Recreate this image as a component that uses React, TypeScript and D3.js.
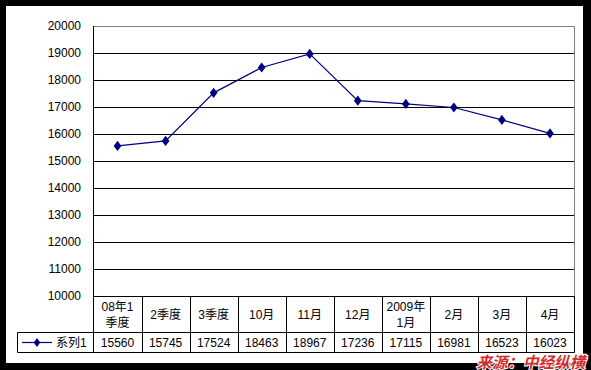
import { useRef, useEffect } from 'react'
import * as d3 from 'd3'

const categories = [['08年1', '季度'], ['2季度'], ['3季度'], ['10月'], ['11月'], ['12月'], ['2009年', '1月'], ['2月'], ['3月'], ['4月']]
const values = [15560, 15745, 17524, 18463, 18967, 17236, 17115, 16981, 16523, 16023]
const yTicks = [10000, 11000, 12000, 13000, 14000, 15000, 16000, 17000, 18000, 19000, 20000]
const seriesName = '系列1'
const sourceText = '来源：中经纵横'

const W = 591
const H = 370
const FONT = '"Liberation Sans", "Noto Sans CJK SC", sans-serif'

export default function App() {
  const svgRef = useRef<SVGSVGElement>(null)

  useEffect(() => {
    if (!svgRef.current) return
    const svg = d3.select(svgRef.current)
    svg.selectAll('*').remove()

    // black frame + white sheet
    svg.append('rect').attr('width', W).attr('height', H).attr('fill', '#000')
    svg.append('rect').attr('x', 6).attr('y', 6).attr('width', 577).attr('height', 357).attr('fill', '#fff')

    const left = 93.5
    const right = 574
    const top = 26
    const bottom = 296
    const catRow = 332.5
    const dataRow = 352.5
    const legendLeft = 17.5

    const idx = values.map((_, i) => i)
    const x = d3.scaleBand<number>().domain(idx).range([left, right])
    const y = d3.scaleLinear().domain([10000, 20000]).range([bottom, top])

    // gridlines
    svg.append('g')
      .selectAll('line')
      .data(yTicks.filter((t) => t > 10000 && t < 20000))
      .join('line')
      .attr('x1', left).attr('x2', right)
      .attr('y1', (d) => Math.round(y(d)) + 0.5).attr('y2', (d) => Math.round(y(d)) + 0.5)
      .attr('stroke', '#000')

    // plot border (top/right gray)
    svg.append('path')
      .attr('d', `M${left},${top + 0.5}H${right + 0.5}V${bottom}`)
      .attr('fill', 'none')
      .attr('stroke', '#808080')

    // y tick labels
    svg.append('g')
      .selectAll('text')
      .data(yTicks)
      .join('text')
      .attr('x', 81)
      .attr('y', (d) => y(d) + 4)
      .attr('text-anchor', 'end')
      .attr('font-family', FONT)
      .attr('font-size', 12)
      .attr('fill', '#000')
      .text((d) => d)

    // data table
    const tbl = svg.append('g').attr('stroke', '#000').attr('fill', 'none')
    tbl.append('line').attr('x1', left).attr('x2', left).attr('y1', top).attr('y2', dataRow)
    tbl.append('line').attr('x1', left).attr('x2', right + 0.5).attr('y1', bottom + 0.5).attr('y2', bottom + 0.5)
    tbl.append('line').attr('x1', legendLeft).attr('x2', right + 0.5).attr('y1', catRow).attr('y2', catRow)
    tbl.append('line').attr('x1', legendLeft).attr('x2', right + 0.5).attr('y1', dataRow).attr('y2', dataRow)
    tbl.append('line').attr('x1', legendLeft).attr('x2', legendLeft).attr('y1', catRow).attr('y2', dataRow)
    tbl.selectAll('.col')
      .data(idx)
      .join('line')
      .attr('x1', (d) => Math.round((x(d) ?? 0) + x.bandwidth()) + 0.5)
      .attr('x2', (d) => Math.round((x(d) ?? 0) + x.bandwidth()) + 0.5)
      .attr('y1', bottom)
      .attr('y2', dataRow)

    // category labels
    const cat = svg.append('g')
    categories.forEach((lines, i) => {
      const cx = (x(i) ?? 0) + x.bandwidth() / 2
      const mid = (bottom + catRow) / 2
      const t = cat.append('text')
        .attr('text-anchor', 'middle')
        .attr('font-family', FONT)
        .attr('font-size', 12)
        .attr('fill', '#000')
      lines.forEach((ln, j) => {
        t.append('tspan')
          .attr('x', cx)
          .attr('y', mid + 4.5 + (j - (lines.length - 1) / 2) * 16)
          .text(ln)
      })
    })

    // values row
    svg.append('g')
      .selectAll('text')
      .data(values)
      .join('text')
      .attr('x', (_, i) => (x(i) ?? 0) + x.bandwidth() / 2)
      .attr('y', dataRow - 6)
      .attr('text-anchor', 'middle')
      .attr('font-family', FONT)
      .attr('font-size', 12)
      .attr('fill', '#000')
      .text((d) => d)

    // legend key
    const ly = (catRow + dataRow) / 2
    svg.append('line').attr('x1', 22).attr('x2', 52).attr('y1', ly).attr('y2', ly).attr('stroke', '#000080').attr('stroke-width', 1.2)
    svg.append('path').attr('d', d3.symbol(d3.symbolDiamond, 28)()).attr('transform', `translate(37,${ly}) scale(1.15,0.9)`).attr('fill', '#000080')
    svg.append('text')
      .attr('x', 56).attr('y', ly + 4.5)
      .attr('font-family', FONT).attr('font-size', 12).attr('fill', '#000')
      .text(seriesName)

    // series line
    const line = d3.line<number>()
      .x((_, i) => (x(i) ?? 0) + x.bandwidth() / 2)
      .y((d) => y(d))
    svg.append('path')
      .datum(values)
      .attr('d', line)
      .attr('fill', 'none')
      .attr('stroke', '#000080')
      .attr('stroke-width', 1.2)

    svg.append('g')
      .selectAll('path')
      .data(values)
      .join('path')
      .attr('d', d3.symbol(d3.symbolDiamond, 36)())
      .attr('transform', (d, i) => `translate(${(x(i) ?? 0) + x.bandwidth() / 2},${y(d)}) scale(1.2,0.9)`)
      .attr('fill', '#000080')

    // source stamp
    svg.append('text')
      .attr('x', 585).attr('y', 367.5)
      .attr('text-anchor', 'end')
      .attr('font-family', '"Noto Sans CJK SC", sans-serif')
      .attr('font-weight', 'bold')
      .attr('font-style', 'italic')
      .attr('font-size', 15.5)
      .attr('fill', '#d22b2b')
      .attr('stroke', '#fff')
      .attr('stroke-width', 2)
      .attr('paint-order', 'stroke')
      .text(sourceText)
  }, [])

  return (
    <svg ref={svgRef} width={W} height={H} style={{ position: 'absolute', left: 0, top: 0, display: 'block' }} />
  )
}
